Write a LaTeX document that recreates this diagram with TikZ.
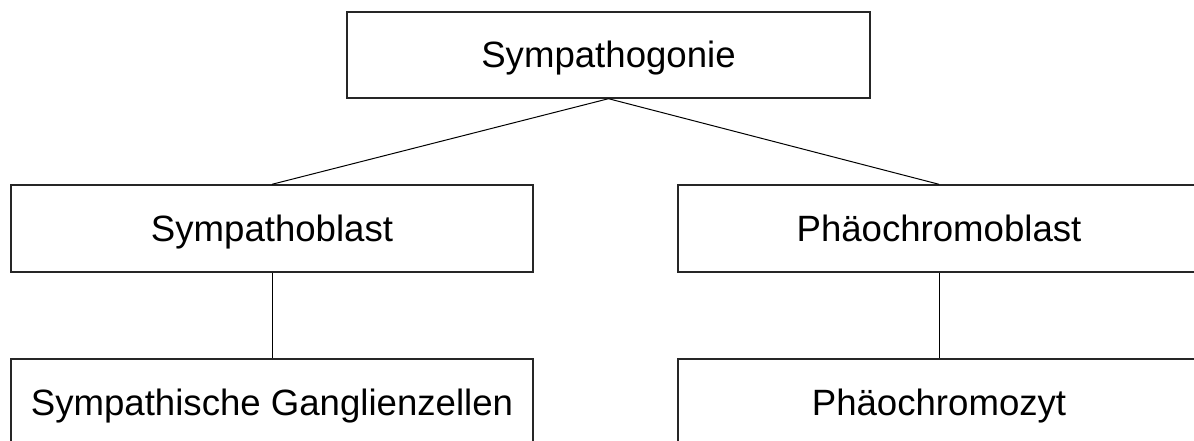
\documentclass[tikz,border=0pt]{standalone}
\usepackage{fontspec}
\setmainfont{Liberation Sans}
\begin{document}
\begin{tikzpicture}[x=1pt,y=1pt,
  box/.style={draw=black!85,line width=1.4pt,rectangle,minimum width=522pt,minimum height=87pt,inner sep=0pt,text height=32pt,text depth=7pt,font=\fontsize{36.6}{42}\selectfont},
  conn/.style={draw=black,line width=1pt}]
\useasboundingbox (0,0) rectangle (1194,440);
\node[box,minimum width=523pt,minimum height=86pt] (top) at (608.5,385) {Sympathogonie};
\node[box] (lm) at (272,211.5) {Sympathoblast};
\node[box] (rm) at (939,211.5) {Phäochromoblast};
\node[box] (lb) at (272,37.5) {Sympathische Ganglienzellen};
\node[box] (rb) at (939,37.5) {Phäochromozyt};
\draw[conn] (top.south) -- (lm.north);
\draw[conn] (top.south) -- (rm.north);
\draw[conn] (lm.south) -- (lb.north);
\draw[conn] (rm.south) -- (rb.north);
\end{tikzpicture}
\end{document}
